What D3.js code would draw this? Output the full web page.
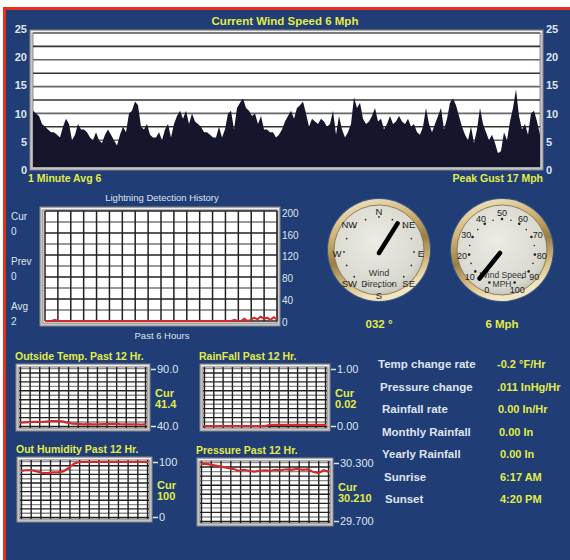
<!DOCTYPE html>
<html>
<head>
<meta charset="utf-8">
<script src="https://cdn.jsdelivr.net/npm/d3@7"></script>
<style>
  body { margin: 0; background: #fff; }
  svg { display: block; font-family: "Liberation Sans", Arial, sans-serif; }
</style>
</head>
<body>
<div id="dash"></div>
<script>
// wind speed history, mph (one sample every few minutes)
const windSpeed = [10.5,10,9.5,8,7.5,7,6.5,6.5,6,5.5,
  7.5,9,8,5,6,8,7,7,6.5,5.5,
  5,6.5,5,4.5,6,7,6,5,4,6,
  7.5,6.5,10,10.5,12.2,11.5,7.5,7,8,6,
  5.5,5.5,6.5,5,7,8,5.5,8,9.5,10.5,
  9,10.5,8,10,8.5,8,7.5,6.5,6.5,6,
  5.5,5.5,7.5,5.5,7,10,10.5,7,11,12,
  12.8,11,10.5,9.5,10,8,9.5,7,7,6.5,
  6.5,5.5,6,7,8.5,9.5,10.5,9,11,11.5,
  12.2,10,7.5,9,8.5,8,9,8.5,7.5,8,
  10.5,6,9.5,7,5.5,6.5,8,13,11,12,
  9,8,8.5,9.5,11,8.5,9,7,8,9.5,
  8,8.5,9.5,8.5,8,9,7.5,8,6.5,6,
  7.5,11,8,6.5,8,9.5,11,7,9,12,
  12.8,11.5,9.5,7.5,6,5,7.5,4.5,7,11,
  8,6.5,5,6,4.5,2.5,3,6.5,5,8.5,
  11,14.5,9.5,7,8,6,10,10.5,8.5,6];
const windTicks = [0, 5, 10, 15, 20, 25];

// lightning strikes, past 6 hours
const lightning = [0,0,0,2,0,0,0,0,0,0,
  0,0,0,0,0,0,0,0,0,0,
  0,0,0,0,0,0,0,0,0,0,
  0,0,0,0,0,0,0,0,0,0,
  0,0,0,0,0,0,0,0,0,0,
  0,0,0,0,0,0,0,0,2,0,
  0,4,0,2,6,3,8,4,6,2,
  7,3];
const lightningTicks = [0, 40, 80, 120, 160, 200];
const lightningStats = [["Cur", "0"], ["Prev", "0"], ["Avg", "2"]];

// 12 hour histories
const tempHist = [43.0,43.2,43.5,43.6,43.5,43.8,44.2,44.4,44.0,43.0,42.0,41.8,41.5,41.6,41.4,41.5,41.6,41.8,41.9,41.6,41.5,41.4,41.4,41.3,41.4];
const rainHist = [0,0,0,0,0,0,0,0,0,0,0,0,0,0.02,0.02,0.02,0.02,0.02,0.02,0.02,0.02,0.02,0.02,0.02,0.02];
const humHist = [84,85,85,83,80,80,81,81,83,89,97,100,100,100,100,100,100,100,100,100,100,100,100,100,100];
const presHist = [30.29,30.29,30.28,30.27,30.26,30.25,30.24,30.22,30.23,30.22,30.21,30.22,30.225,30.22,30.23,30.225,30.235,30.23,30.24,30.23,30.235,30.21,30.195,30.225,30.21];

// gauges
const windDir = 32;
const windNow = 6;
const dirLabels = ["N", "NE", "E", "SE", "S", "SW", "W", "NW"];
const speedLabels = [0, 10, 20, 30, 40, 50, 60, 70, 80, 90, 100];

// info panel
const infoNames = ["Temp change rate", "Pressure change", "Rainfall rate", "Monthly Rainfall", "Yearly Rainfall", "Sunrise", "Sunset"];
const infoValues = ["-0.2 °F/Hr", ".011 InHg/Hr", "0.00 In/Hr", "0.00 In", "0.00 In", "6:17 AM", "4:20 PM"];

const YEL = "#e2ec48", LIGHT = "#dfe4ee", NAVY = "#213d75", RED = "#d42a2a";

const svg = d3.select("#dash").append("svg").attr("width", 570).attr("height", 560);
svg.append("rect").attr("width", 570).attr("height", 560).attr("fill", "#fff");
svg.append("rect").attr("x", 3).attr("y", 7).attr("width", 567).attr("height", 553).attr("fill", "#e8301e");
svg.append("rect").attr("x", 6).attr("y", 10).attr("width", 564).attr("height", 550).attr("fill", NAVY);

function frame(g, x, y, w, h) {
  g.append("rect").attr("x", x).attr("y", y).attr("width", w).attr("height", h)
    .attr("fill", "#c6c6c6").attr("stroke", "#8a8a8a").attr("stroke-width", 1);
  g.append("rect").attr("x", x + 1).attr("y", y + 1).attr("width", w - 2).attr("height", 1.5).attr("fill", "#f2f2f2");
  g.append("rect").attr("x", x + 3).attr("y", y + 3).attr("width", w - 6).attr("height", h - 6)
    .attr("fill", "#fff").attr("stroke", "#777").attr("stroke-width", 0.8);
}

// ---------- wind speed chart ----------
let wind = svg.append("g");
frame(wind, 30, 30, 513, 140);
const wx = d3.scaleLinear().domain([0, windSpeed.length - 1]).range([33, 540]);
const wy = d3.scaleLinear().domain([0, 25]).range([167, 33]);
wind.selectAll(".wg").data(d3.range(2.5, 25.01, 2.5)).join("line")
  .attr("x1", 33).attr("x2", 540).attr("y1", d => wy(d)).attr("y2", d => wy(d))
  .attr("stroke", (d, i) => i % 2 ? "#666" : "#333").attr("stroke-width", 1.6);
wind.append("path").datum(windSpeed)
  .attr("d", d3.area().x((d, i) => wx(i)).y0(wy(0)).y1(d => wy(d)))
  .attr("fill", "#15152c");
const wLab = d3.scaleLinear().domain([0, 25]).range([170, 29]);
[[d3.axisLeft(wLab), 27], [d3.axisRight(wLab), 546]].forEach(([ax, tx]) => {
  const a = wind.append("g").attr("transform", `translate(${tx},0)`)
    .call(ax.tickValues(windTicks).tickSize(0).tickPadding(0));
  a.select(".domain").remove();
  a.selectAll("text").attr("fill", LIGHT).style("font-size", "11px").style("font-weight", "bold");
});
wind.append("text").attr("x", 285).attr("y", 25).attr("text-anchor", "middle")
  .attr("fill", YEL).style("font-size", "11.5px").style("font-weight", "bold").text("Current Wind Speed 6 Mph");
wind.append("text").attr("x", 28).attr("y", 182).attr("fill", YEL)
  .style("font-size", "10.5px").style("font-weight", "bold").text("1 Minute Avg 6");
wind.append("text").attr("x", 543).attr("y", 182).attr("text-anchor", "end").attr("fill", YEL)
  .style("font-size", "10.5px").style("font-weight", "bold").text("Peak Gust 17 Mph");

// ---------- lightning ----------
let lt = svg.append("g");
frame(lt, 40, 207, 240, 119);
const lx = d3.scaleLinear().domain([0, lightning.length - 1]).range([45, 277]);
const ly = d3.scaleLinear().domain([0, 200]).range([321, 211]);
const lgx = d3.scaleLinear().domain([0, 18]).range([45, 277]);
const lgy = d3.scaleLinear().domain([0, 10]).range([321, 211]);
lt.selectAll(".lh").data(d3.range(11)).join("line")
  .attr("x1", 45).attr("x2", 277).attr("y1", d => lgy(d)).attr("y2", d => lgy(d))
  .attr("stroke", (d, i) => i % 2 ? "#777" : "#222").attr("stroke-width", 1.5);
lt.selectAll(".lv").data(d3.range(19)).join("line")
  .attr("y1", 211).attr("y2", 321).attr("x1", d => lgx(d)).attr("x2", d => lgx(d))
  .attr("stroke", "#222").attr("stroke-width", 1.5);
lt.append("path").datum(lightning)
  .attr("d", d3.line().x((d, i) => lx(i)).y(d => ly(d)))
  .attr("fill", "none").attr("stroke", RED).attr("stroke-width", 2);
const lLab = d3.scaleLinear().domain([0, 200]).range([322, 213]);
const la = lt.append("g").attr("transform", "translate(282,0)")
  .call(d3.axisRight(lLab).tickValues(lightningTicks).tickSize(0).tickPadding(0));
la.select(".domain").remove();
la.selectAll("text").attr("fill", LIGHT).style("font-size", "10px");
lt.append("text").attr("x", 162).attr("y", 201).attr("text-anchor", "middle").attr("fill", LIGHT)
  .style("font-size", "9.5px").text("Lightning Detection History");
lt.append("text").attr("x", 162).attr("y", 339).attr("text-anchor", "middle").attr("fill", LIGHT)
  .style("font-size", "9.5px").text("Past 6 Hours");
lightningStats.forEach(([name, val], i) => {
  lt.append("text").attr("x", 11).attr("y", 220 + i * 45).attr("fill", LIGHT).style("font-size", "10px").text(name);
  lt.append("text").attr("x", 11).attr("y", 235 + i * 45).attr("fill", LIGHT).style("font-size", "10px").text(val);
});

// ---------- gauges ----------
const defs = svg.append("defs");
const rim = defs.append("linearGradient").attr("id", "rim").attr("x1", 0).attr("y1", 0).attr("x2", 0.3).attr("y2", 1);
[["0%", "#f6f0d8"], ["35%", "#d2b474"], ["60%", "#9c7e44"], ["85%", "#dcc48a"], ["100%", "#f2e6c0"]]
  .forEach(([o, c]) => rim.append("stop").attr("offset", o).attr("stop-color", c));
const face = defs.append("radialGradient").attr("id", "face").attr("cx", 0.45).attr("cy", 0.4).attr("r", 0.65);
[["0%", "#ecece4"], ["80%", "#d8d8ce"], ["100%", "#bdbdb1"]]
  .forEach(([o, c]) => face.append("stop").attr("offset", o).attr("stop-color", c));

function gaugeBody(cx, cy) {
  const g = svg.append("g");
  g.append("circle").attr("cx", cx).attr("cy", cy).attr("r", 52).attr("fill", "#3a5a8c");
  g.append("circle").attr("cx", cx).attr("cy", cy).attr("r", 51).attr("fill", "url(#rim)");
  g.append("circle").attr("cx", cx).attr("cy", cy).attr("r", 45).attr("fill", "url(#face)")
    .attr("stroke", "#7a6a44").attr("stroke-width", 0.8);
  return g;
}
function polar(cx, cy, r, deg) {
  const a = deg * Math.PI / 180;
  return [cx + r * Math.sin(a), cy - r * Math.cos(a)];
}

// wind direction
const dcx = 379, dcy = 250;
let dg = gaugeBody(dcx, dcy);
const dirScale = d3.scaleLinear().domain([0, 8]).range([0, 360]);
dg.selectAll(".dd").data(d3.range(16)).join("circle")
  .attr("cx", d => polar(dcx, dcy + 2, 35, d * 22.5)[0])
  .attr("cy", d => polar(dcx, dcy + 2, 35, d * 22.5)[1])
  .attr("r", 0.9).attr("fill", "#333");
dg.selectAll(".dl").data(dirLabels).join("text")
  .attr("x", (d, i) => polar(dcx, dcy + 4, 42, dirScale(i))[0])
  .attr("y", (d, i) => polar(dcx, dcy + 4, 42, dirScale(i))[1] + 3.3)
  .attr("text-anchor", "middle").attr("fill", "#222").style("font-size", "9.5px").text(d => d);
dg.append("text").attr("x", dcx).attr("y", 276).attr("text-anchor", "middle").attr("fill", "#333")
  .style("font-size", "9px").text("Wind");
dg.append("text").attr("x", dcx).attr("y", 287).attr("text-anchor", "middle").attr("fill", "#333")
  .style("font-size", "9px").text("Direction");
const dTip = polar(dcx, dcy + 3, 35, windDir);
dg.append("line").attr("x1", dcx).attr("y1", dcy + 3).attr("x2", dTip[0]).attr("y2", dTip[1])
  .attr("stroke", "#000").attr("stroke-width", 4.5).attr("stroke-linecap", "round");
svg.append("text").attr("x", dcx).attr("y", 328).attr("text-anchor", "middle").attr("fill", YEL)
  .style("font-size", "11.5px").style("font-weight", "bold").text("032 °");

// wind speed
const scx = 502, scy = 250;
let sg = gaugeBody(scx, scy);
const spd = d3.scaleLinear().domain([0, 100]).range([-157.5, 157.5]);
sg.selectAll(".sd").data(d3.range(0, 101, 5)).join("circle")
  .attr("cx", d => polar(scx, scy + 2, 33, spd(d))[0])
  .attr("cy", d => polar(scx, scy + 2, 33, spd(d))[1])
  .attr("r", d => d % 10 ? 0.8 : 1.3).attr("fill", "#222");
sg.selectAll(".sl").data(speedLabels).join("text")
  .attr("x", d => polar(scx, scy + 3, 40, spd(d))[0])
  .attr("y", d => polar(scx, scy + 3, 40, spd(d))[1] + 3.2)
  .attr("text-anchor", "middle").attr("fill", "#222").style("font-size", "9px").text(d => d);
sg.append("text").attr("x", scx + 1).attr("y", 278).attr("text-anchor", "middle").attr("fill", "#333")
  .style("font-size", "8.5px").text("Wind Speed");
sg.append("text").attr("x", scx).attr("y", 287).attr("text-anchor", "middle").attr("fill", "#333")
  .style("font-size", "8.5px").text("MPH");
const sTip = polar(scx, scy + 3, 34, spd(windNow));
sg.append("line").attr("x1", scx - 2).attr("y1", scy + 3).attr("x2", sTip[0]).attr("y2", sTip[1])
  .attr("stroke", "#000").attr("stroke-width", 4.5).attr("stroke-linecap", "round");
svg.append("text").attr("x", scx).attr("y", 328).attr("text-anchor", "middle").attr("fill", YEL)
  .style("font-size", "11.5px").style("font-weight", "bold").text(windNow + " Mph");

// ---------- small 12 hour charts ----------
function smallChart(o) {
  let g = svg.append("g");
  frame(g, o.x, o.y, o.w, o.h);
  const x0 = o.x + 3, x1 = o.x + o.w - 3, y0 = o.y + 3, y1 = o.y + o.h - 3;
  const gx = d3.scaleLinear().domain([0, 13]).range([x0 + 1.5, x1 - 1.5]);
  const gy = d3.scaleLinear().domain([0, 13]).range([y1 - 1.5, y0 + 1.5]);
  g.selectAll(".h").data(d3.range(14)).join("line")
    .attr("x1", x0).attr("x2", x1).attr("y1", d => gy(d)).attr("y2", d => gy(d))
    .attr("stroke", (d, i) => i % 2 ? "#888" : "#222").attr("stroke-width", 1.4);
  g.selectAll(".v").data(d3.range(14)).join("line")
    .attr("y1", y0).attr("y2", y1).attr("x1", d => gx(d)).attr("x2", d => gx(d))
    .attr("stroke", "#222").attr("stroke-width", 1.4);
  const xs = d3.scaleLinear().domain([0, o.data.length - 1]).range([x0 + 1, x1 - 1]);
  const ys = d3.scaleLinear().domain(o.domain).range([y1 - 2, y0 + 2]);
  g.append("path").datum(o.data)
    .attr("d", d3.line().x((d, i) => xs(i)).y(d => ys(d)))
    .attr("fill", "none").attr("stroke", RED).attr("stroke-width", 2.2);
  const ax = g.append("g").attr("transform", `translate(${o.x + o.w + 1},0)`)
    .call(d3.axisRight(ys).tickValues(o.domain).tickFormat(o.fmt).tickSize(5).tickPadding(1));
  ax.select(".domain").remove();
  ax.selectAll("line").attr("stroke", LIGHT).attr("stroke-width", 1.5);
  ax.selectAll("text").attr("fill", LIGHT).style("font-size", "11px");
  g.append("text").attr("x", o.x - 1).attr("y", o.y - 4).attr("fill", YEL)
    .style("font-size", "10.5px").style("font-weight", "bold").text(o.title);
  const my = (o.y + o.y + o.h) / 2;
  g.append("text").attr("x", o.x + o.w + 5).attr("y", my - 1).attr("fill", YEL)
    .style("font-size", "11px").style("font-weight", "bold").text("Cur");
  g.append("text").attr("x", o.x + o.w + 5).attr("y", my + 10).attr("fill", YEL)
    .style("font-size", "11px").style("font-weight", "bold").text(o.cur);
}
smallChart({x: 16, y: 364, w: 134, h: 67, data: tempHist, domain: [40, 90], fmt: d3.format(".1f"),
  title: "Outside Temp. Past 12 Hr.", cur: "41.4"});
smallChart({x: 200, y: 364, w: 130, h: 67, data: rainHist, domain: [0, 1], fmt: d3.format(".2f"),
  title: "RainFall Past 12 Hr.", cur: "0.02"});
smallChart({x: 17, y: 457, w: 135, h: 65, data: humHist, domain: [0, 100], fmt: d3.format("d"),
  title: "Out Humidity Past 12 Hr.", cur: "100"});
smallChart({x: 197, y: 458, w: 136, h: 68, data: presHist, domain: [29.7, 30.3], fmt: d3.format(".3f"),
  title: "Pressure Past 12 Hr.", cur: "30.210"});

// ---------- info panel ----------
const infoY = d3.scalePoint().domain(d3.range(infoNames.length)).range([368, 503]);
const labelX = [378, 380, 382, 382, 382, 384, 385];
const valueX = [497, 497, 498, 499, 500, 500, 500];
svg.selectAll(".iname").data(infoNames).join("text")
  .attr("x", (d, i) => labelX[i]).attr("y", (d, i) => infoY(i))
  .attr("fill", LIGHT).style("font-size", "11.5px").style("font-weight", "bold").text(d => d);
svg.selectAll(".ival").data(infoValues).join("text")
  .attr("x", (d, i) => valueX[i]).attr("y", (d, i) => infoY(i))
  .attr("fill", YEL).style("font-size", "11px").style("font-weight", "bold").text(d => d);
</script>
</body>
</html>
